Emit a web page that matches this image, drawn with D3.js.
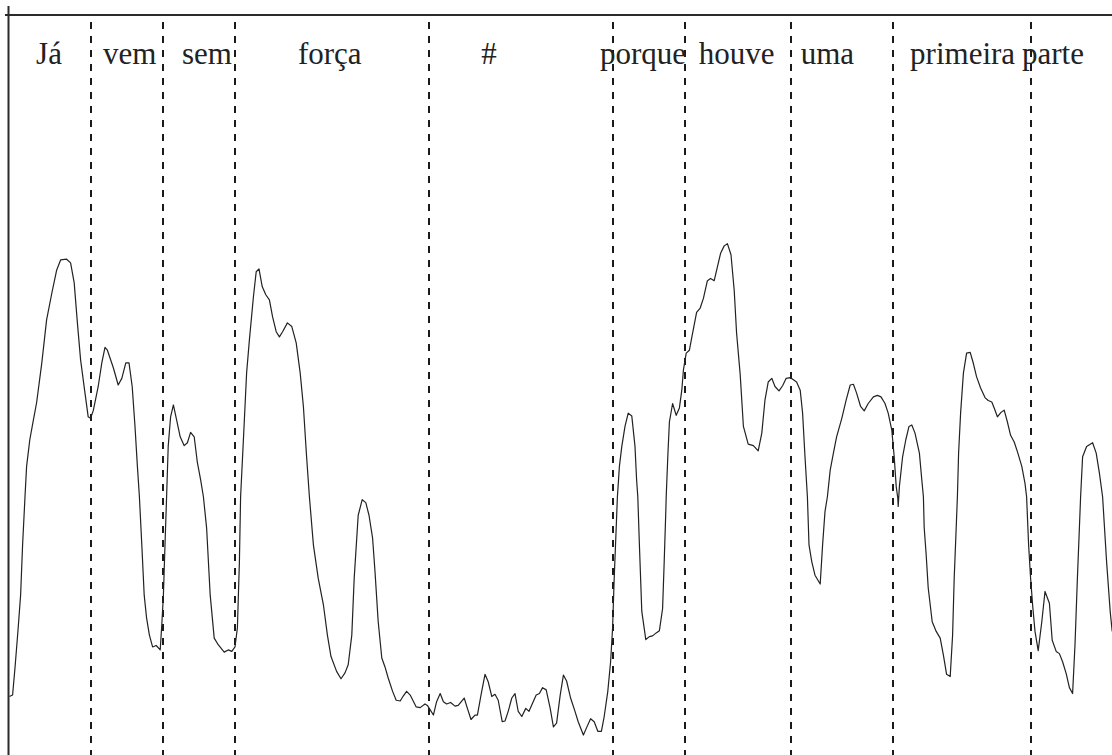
<!DOCTYPE html>
<html>
<head>
<meta charset="utf-8">
<script src="https://cdn.jsdelivr.net/npm/d3@7"></script>
<style>
  html, body { margin: 0; padding: 0; background: #fff; }
  svg { display: block; }
</style>
</head>
<body>
<script>
// time in ms, intensity in arbitrary units (0-100)
var times = [1,9,15,23,29,34,40,44,52,61,69,82,94,107,119,129,144,154,163,171,179,190,198,204,211,223,232,240,246,261,273,282,292,300,308,315,321,326,332,338,344,351,359,368,378,382,386,390,394,398,404,411,419,428,438,446,454,463,471,479,486,494,503,513,523,538,548,557,565,571,576,579,586,594,601,611,618,625,633,642,651,659,668,676,684,696,707,718,728,736,744,751,761,773,786,796,805,819,830,840,848,857,863,873,883,892,900,909,915,923,932,940,948,959,968,978,986,994,1003,1018,1028,1040,1046,1053,1061,1069,1078,1086,1094,1104,1115,1123,1138,1146,1155,1165,1171,1180,1190,1198,1207,1215,1223,1233,1240,1248,1257,1265,1273,1282,1292,1300,1308,1318,1326,1334,1343,1353,1361,1369,1378,1386,1394,1404,1415,1423,1436,1444,1454,1463,1472,1481,1488,1497,1504,1509,1513,1518,1521,1526,1532,1540,1548,1557,1565,1569,1572,1576,1582,1592,1601,1609,1618,1626,1634,1638,1642,1643,1647,1651,1659,1668,1676,1682,1686,1693,1701,1709,1719,1728,1736,1746,1754,1763,1769,1779,1788,1796,1805,1813,1819,1828,1836,1848,1861,1873,1882,1890,1898,1907,1915,1925,1934,1943,1953,1961,1969,1978,1984,1990,1996,2000,2007,2015,2028,2034,2040,2046,2053,2061,2069,2082,2093,2103,2111,2119,2129,2138,2148,2161,2171,2180,2190,2198,2207,2213,2218,2222,2223,2226,2234,2242,2250,2257,2265,2276,2282,2286,2288,2293,2298,2308,2318,2328,2336,2344,2353,2359,2363,2368,2371,2374,2379,2386,2394,2403,2411,2419,2429,2440,2448,2457,2463,2471,2480,2488,2496,2504,2513,2521,2532,2540,2544,2549,2554,2559,2565,2573,2582,2590,2601,2608,2618,2626,2634,2643,2651,2659,2665,2671,2676,2679,2684,2694,2709,2718,2726,2734,2744,2753,2758];

var intensity = [7.9,8.1,11.8,17.2,21.6,28.4,34.9,39.0,42.6,45.3,47.6,53.0,58.8,62.4,65.5,66.9,67.0,66.5,63.8,58.4,53.4,48.9,45.7,45.5,46.6,49.8,53.0,55.1,54.7,52.3,50.0,50.9,53.0,53.0,49.8,44.4,39.0,34.9,28.4,21.6,18.5,16.2,14.6,14.8,14.2,17.6,21.6,28.4,34.9,41.7,45.7,47.3,45.3,43.0,41.8,42.2,43.6,43.0,39.5,37.2,34.9,30.7,21.6,15.8,14.9,13.9,14.2,14.0,14.6,17.2,26.1,34.9,42.6,51.6,56.1,61.9,65.3,65.7,63.3,62.2,61.5,59.2,57.2,56.5,57.2,58.4,57.9,55.7,51.6,47.1,40.3,34.9,28.4,23.9,20.3,16.2,13.3,11.3,10.3,11.1,12.2,16.2,23.9,32.4,34.5,34.1,32.4,29.3,24.8,18.0,13.1,11.9,10.4,8.6,7.4,7.3,8.0,8.6,8.1,6.5,6.4,6.9,6.7,6.1,5.4,7.2,8.3,7.2,6.9,7.1,6.6,6.7,7.7,6.3,4.8,5.4,5.4,8.1,10.9,9.9,7.9,8.2,7.4,4.5,4.6,5.9,7.7,8.3,5.9,5.2,6.3,5.9,6.9,8.1,8.3,9.1,8.8,6.3,3.8,4.3,8.1,10.8,10.0,7.7,5.9,4.5,2.7,3.7,4.9,4.5,3.2,3.2,5.2,8.6,12.6,17.2,23.9,30.7,34.9,39.0,41.7,44.4,46.2,45.8,41.7,37.2,34.9,28.4,19.4,15.6,16.0,16.1,16.5,16.8,19.8,26.1,32.9,34.9,40.3,45.0,47.5,45.9,46.9,49.3,52.0,54.3,54.7,57.0,59.8,60.4,61.7,64.1,64.4,64.1,65.5,67.8,68.8,69.1,67.6,62.8,57.0,51.4,44.4,42.0,41.8,41.1,43.5,48.0,50.4,50.9,49.8,49.2,49.9,50.9,51.0,50.7,50.4,49.3,46.2,40.3,34.9,28.4,26.1,24.3,23.1,28.4,32.9,34.9,38.5,40.8,43.0,45.5,48.0,50.0,50.1,48.9,47.1,46.5,47.5,48.4,48.6,48.4,47.5,46.2,43.9,40.3,36.3,34.7,33.6,36.3,40.3,42.6,44.4,44.6,43.5,40.8,37.2,34.9,30.7,27.0,22.6,18.0,16.7,15.8,13.5,10.9,10.6,16.2,23.9,30.7,34.9,40.8,46.2,51.6,54.3,54.4,52.9,51.1,49.6,48.3,47.9,47.7,46.9,45.7,46.3,46.6,45.0,43.2,42.3,41.0,39.0,36.7,34.9,28.4,23.9,20.3,16.7,14.1,18.0,22.1,20.5,15.5,14.0,13.7,12.6,11.0,9.1,8.3,14.9,23.9,30.7,34.9,40.3,41.7,42.2,40.8,38.1,34.9,26.1,19.4,16.7];

// word boundaries (ms)
var boundaries = [205, 385, 565, 1050, 1510, 1690, 1955, 2210, 2555];

// word labels and where they sit on the time axis (ms)
var words = ["Já", "vem", "sem", "força", "#", "porque", "houve", "uma", "primeira", "parte"];
var wordTimes = [100, 302, 495, 802, 1200, 1585, 1819, 2046, 2384, 2610];

var w = 1112;
var h = 755;
var labelY = 64;
var dashTop = 22;

var svg = d3.select("body").append("svg")
            .attr("width", w)
            .attr("height", h);

var scaleX = d3.scaleLinear().domain([0, 2760]).range([9, 1113]);
var scaleY = d3.scaleLinear().domain([0, 100]).range([755, 15]);

// frame: top and left edges
svg.append("line")
   .attr("x1", 5).attr("x2", w)
   .attr("y1", scaleY(100)).attr("y2", scaleY(100))
   .style("stroke", "#2b2b2b")
   .style("stroke-width", 2);

svg.append("line")
   .attr("x1", scaleX(0) - 0.5).attr("x2", scaleX(0) - 0.5)
   .attr("y1", 6).attr("y2", h)
   .style("stroke", "#2b2b2b")
   .style("stroke-width", 2);

// dashed word boundaries
svg.selectAll("line.bound")
   .data(boundaries)
   .enter()
   .append("line")
     .attr("class", "bound")
     .attr("x1", function(d){ return scaleX(d); })
     .attr("x2", function(d){ return scaleX(d); })
     .attr("y1", dashTop)
     .attr("y2", h)
     .style("stroke", "#1a1a1a")
     .style("stroke-width", 2)
     .style("stroke-dasharray", "7,7");

// intensity contour
var pts = times.map(function(t, i){ return [t, intensity[i]]; });
var line = d3.line()
             .x(function(d){ return scaleX(d[0]); })
             .y(function(d){ return scaleY(d[1]); });

svg.append("path")
   .datum(pts)
   .attr("d", line)
   .style("fill", "none")
   .style("stroke", "#222")
   .style("stroke-width", 1.2)
   .style("stroke-linejoin", "round");

// labels
svg.selectAll("text.word")
   .data(words)
   .enter()
   .append("text")
     .attr("class", "word")
     .attr("x", function(d, i){ return scaleX(wordTimes[i]); })
     .attr("y", labelY)
     .attr("text-anchor", "middle")
     .style("font-family", "'Liberation Serif', 'Times New Roman', serif")
     .style("font-size", "31px")
     .style("fill", "#222")
     .text(function(d){ return d; });
</script>
</body>
</html>
